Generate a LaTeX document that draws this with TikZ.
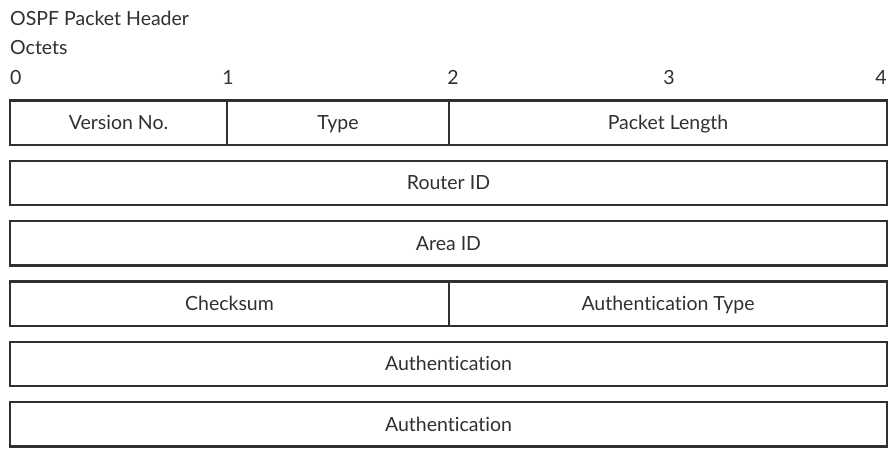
\documentclass[tikz,border=0pt]{standalone}
\usepackage{fontspec}
\setmainfont{Lato}[Ligatures=NoCommon]
\definecolor{ink}{HTML}{303030}
\begin{document}
\begin{tikzpicture}[x=1pt,y=-1pt,
  txt/.style={text=ink,font=\fontsize{19.5}{23}\selectfont},
  field/.style={txt,draw=ink,line width=2.3pt,inner sep=0pt,minimum height=44.5pt,
    text height=13.5pt,text depth=0pt},
  lbl/.style={txt,inner sep=0pt}]
\useasboundingbox (0,0) rectangle (889,448);
\node[lbl,anchor=base west] (title) at (10,25) {OSPF Packet Header};
\node[lbl,anchor=base west] (oct) at (10,54) {Octets};
\node[lbl,anchor=base west] (n0) at (10,84) {0};
\node[lbl,anchor=base] (n1) at (228,84) {1};
\node[lbl,anchor=base] (n2) at (453,84) {2};
\node[lbl,anchor=base] (n3) at (669,84) {3};
\node[lbl,anchor=base east] (n4) at (887,84) {4};
% row 1
\node[field,minimum width=217pt] (ver) at (118.5,122.75) {Version No.};
\node[field,minimum width=222pt] (typ) at (338,122.75) {Type};
\node[field,minimum width=438pt] (len) at (668,122.75) {Packet Length};
% row 2
\node[field,minimum width=877pt] (rid) at (448.5,183.05) {Router ID};
% row 3
\node[field,minimum width=877pt] (aid) at (448.5,243.35) {Area ID};
% row 4
\node[field,minimum width=439pt] (chk) at (229.5,303.65) {Checksum};
\node[field,minimum width=438pt] (aty) at (668,303.65) {Authentication Type};
% row 5
\node[field,minimum width=877pt] (au1) at (448.5,363.95) {Authentication};
% row 6
\node[field,minimum width=877pt] (au2) at (448.5,424.25) {Authentication};
\end{tikzpicture}
\end{document}
